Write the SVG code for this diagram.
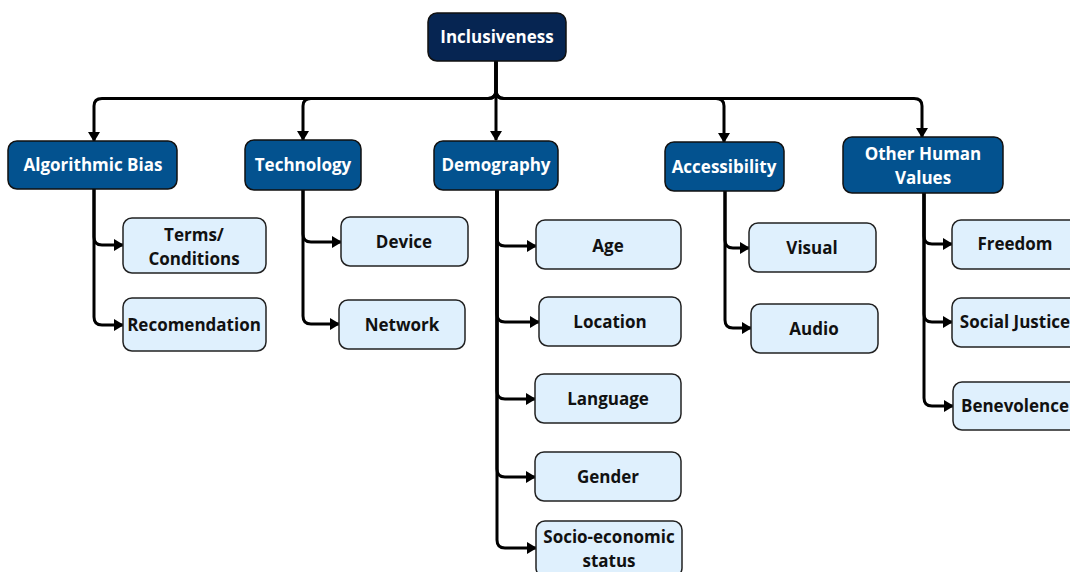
<svg xmlns="http://www.w3.org/2000/svg" width="1070" height="572" viewBox="0 0 1070 572">
<style>
.root{fill:#062552;stroke:#111;stroke-width:1.5}
.cat{fill:#03528f;stroke:#111;stroke-width:1.5}
.leaf{fill:#dff0fd;stroke:#222;stroke-width:1.5}
.tw{fill:#fff;font-family:"Open Sans","DejaVu Sans",sans-serif;font-weight:700;font-size:17px;text-anchor:middle}
.tb{fill:#111;font-family:"Open Sans","DejaVu Sans",sans-serif;font-weight:700;font-size:17px;text-anchor:middle}
.c{fill:none;stroke:#000;stroke-width:3;marker-end:url(#ah)}
</style>
<defs>
<marker id="ah" markerUnits="userSpaceOnUse" markerWidth="10" markerHeight="12" viewBox="0 0 10 12" refX="9" refY="6" orient="auto">
<path d="M0,0 L10,6 L0,12 Z" fill="#000"/>
</marker>
</defs>
<rect width="1070" height="572" fill="#fff"/>
<g id="connectors">
<path class="c" d="M496,61 V90 Q496,98.5 488,98.5 H102 Q94,98.5 94,106 V141"/>
<path class="c" d="M496,61 V90 Q496,98.5 488,98.5 H311 Q303,98.5 303,106 V140"/>
<path class="c" d="M496,61 V140"/>
<path class="c" d="M496,61 V90 Q496,98.5 504,98.5 H716 Q724,98.5 724,106 V142"/>
<path class="c" d="M496,61 V90 Q496,98.5 504,98.5 H914 Q922,98.5 922,106 V137"/>
<path class="c" d="M94,189 V237 Q94,245 102,245 H123"/>
<path class="c" d="M94,189 V317 Q94,325 102,325 H123"/>
<path class="c" d="M303,190 V234 Q303,242 311,242 H341"/>
<path class="c" d="M303,190 V316 Q303,324 311,324 H339"/>
<path class="c" d="M497,190 V238 Q497,246 505,246 H536"/>
<path class="c" d="M497,190 V314 Q497,322 505,322 H539"/>
<path class="c" d="M497,190 V391 Q497,399 505,399 H535"/>
<path class="c" d="M497,190 V469 Q497,477 505,477 H535"/>
<path class="c" d="M497,190 V540 Q497,548 505,548 H536"/>
<path class="c" d="M725,191 V240 Q725,248 733,248 H749"/>
<path class="c" d="M725,191 V320 Q725,328 733,328 H751"/>
<path class="c" d="M924,193 V236 Q924,244 932,244 H952"/>
<path class="c" d="M924,193 V314 Q924,322 932,322 H952"/>
<path class="c" d="M924,193 V398 Q924,406 932,406 H953"/>
</g>
<g id="n-inclusiveness"><rect class="root" x="428" y="13" width="138" height="48" rx="9"/><text class="tw" x="497" y="43">Inclusiveness</text></g>
<g id="n-algorithmic-bias"><rect class="cat" x="8" y="141" width="169" height="48" rx="9"/><text class="tw" x="93" y="171">Algorithmic Bias</text></g>
<g id="n-technology"><rect class="cat" x="245" y="140" width="116" height="50" rx="9"/><text class="tw" x="303" y="171">Technology</text></g>
<g id="n-demography"><rect class="cat" x="434" y="141" width="124" height="49" rx="9"/><text class="tw" x="496" y="171">Demography</text></g>
<g id="n-accessibility"><rect class="cat" x="665" y="142" width="119" height="49" rx="9"/><text class="tw" x="724" y="173">Accessibility</text></g>
<g id="n-other-human-values"><rect class="cat" x="843" y="137" width="160" height="56" rx="9"/><text class="tw" x="923" y="160">Other Human</text><text class="tw" x="923" y="184">Values</text></g>
<g id="n-terms"><rect class="leaf" x="123" y="218" width="143" height="55" rx="9"/><text class="tb" x="194" y="241">Terms/</text><text class="tb" x="194" y="265">Conditions</text></g>
<g id="n-recomendation"><rect class="leaf" x="123" y="298" width="143" height="53" rx="9"/><text class="tb" x="194" y="331">Recomendation</text></g>
<g id="n-device"><rect class="leaf" x="341" y="217" width="127" height="49" rx="9"/><text class="tb" x="404" y="248">Device</text></g>
<g id="n-network"><rect class="leaf" x="339" y="300" width="126" height="49" rx="9"/><text class="tb" x="402" y="331">Network</text></g>
<g id="n-age"><rect class="leaf" x="536" y="220" width="145" height="49" rx="9"/><text class="tb" x="608" y="252">Age</text></g>
<g id="n-location"><rect class="leaf" x="539" y="297" width="142" height="49" rx="9"/><text class="tb" x="610" y="328">Location</text></g>
<g id="n-language"><rect class="leaf" x="535" y="374" width="146" height="49" rx="9"/><text class="tb" x="608" y="405">Language</text></g>
<g id="n-gender"><rect class="leaf" x="535" y="452" width="146" height="49" rx="9"/><text class="tb" x="608" y="483">Gender</text></g>
<g id="n-socio-economic"><rect class="leaf" x="536" y="521" width="146" height="56" rx="9"/><text class="tb" x="609" y="543">Socio-economic</text><text class="tb" x="609" y="567">status</text></g>
<g id="n-visual"><rect class="leaf" x="749" y="223" width="127" height="49" rx="9"/><text class="tb" x="812" y="254">Visual</text></g>
<g id="n-audio"><rect class="leaf" x="751" y="304" width="127" height="49" rx="9"/><text class="tb" x="814" y="335">Audio</text></g>
<g id="n-freedom"><rect class="leaf" x="952" y="220" width="127" height="49" rx="9"/><text class="tb" x="1015" y="250">Freedom</text></g>
<g id="n-social-justice"><rect class="leaf" x="952" y="298" width="127" height="49" rx="9"/><text class="tb" x="1015" y="328">Social Justice</text></g>
<g id="n-benevolence"><rect class="leaf" x="953" y="382" width="127" height="48" rx="9"/><text class="tb" x="1015" y="412">Benevolence</text></g>
</svg>
